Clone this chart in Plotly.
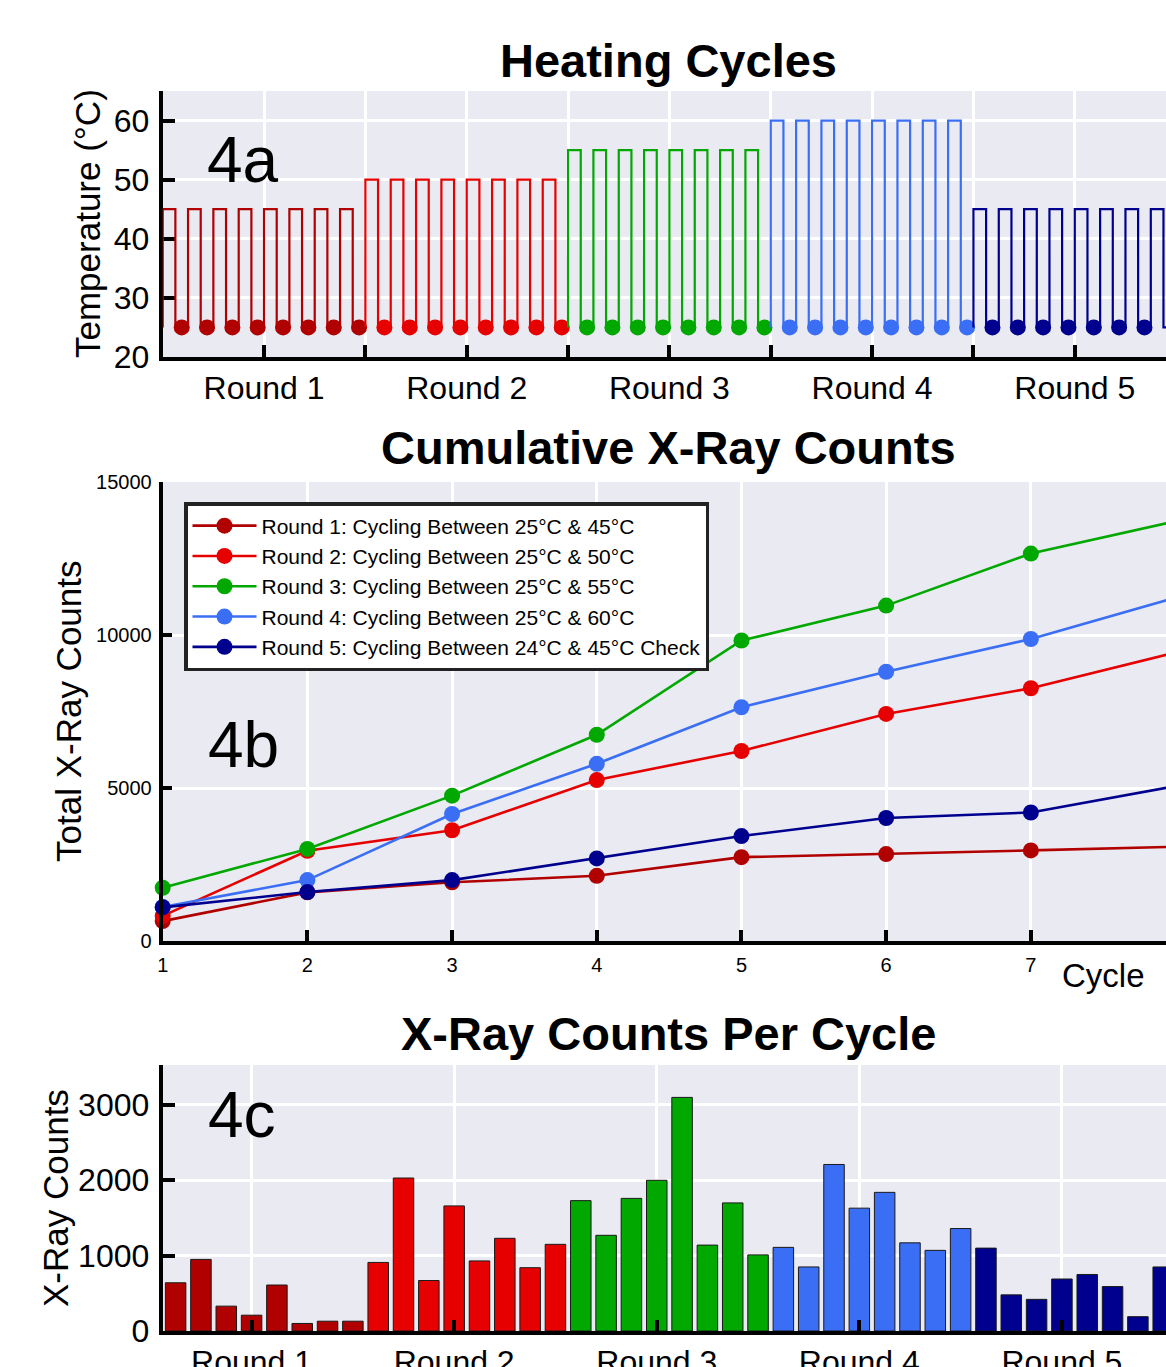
import plotly.graph_objects as go

W, H = 1166, 1367

# ---------------- data ----------------
rounds = ["Round 1", "Round 2", "Round 3", "Round 4", "Round 5"]
colors = ["#B00000", "#E60000", "#00A800", "#3A6EF5", "#00008F"]
legend_names = [
    "Round 1: Cycling Between 25°C & 45°C",
    "Round 2: Cycling Between 25°C & 50°C",
    "Round 3: Cycling Between 25°C & 55°C",
    "Round 4: Cycling Between 25°C & 60°C",
    "Round 5: Cycling Between 24°C & 45°C Check",
]
high_temps = [45, 50, 55, 60, 45]
low_temp = 25
cycles_per_round = 8
temp_ticks = [20, 30, 40, 50, 60]

cycles = [1, 2, 3, 4, 5, 6, 7, 8]
cum_r1 = [650, 1590, 1920, 2130, 2740, 2840, 2960, 3080]
cum_r2 = [820, 2950, 3620, 5260, 6210, 7420, 8260, 9430]
cum_r3 = [1740, 3010, 4750, 6740, 9820, 10960, 12660, 13720]
cum_r4 = [1110, 1990, 4150, 5790, 7640, 8800, 9870, 11220]
cum_r5 = [1100, 1600, 1990, 2700, 3430, 4020, 4200, 5060]
cumulative = [cum_r1, cum_r2, cum_r3, cum_r4, cum_r5]
cum_ticks = [0, 5000, 10000, 15000]
cum_tick_text = ["0", "5000", "10000", "15000"]

bars_r1 = [640, 950, 330, 210, 610, 100, 130, 130]
bars_r2 = [910, 2030, 670, 1660, 930, 1230, 840, 1150]
bars_r3 = [1730, 1270, 1760, 2000, 3100, 1140, 1700, 1010]
bars_r4 = [1110, 850, 2210, 1630, 1840, 1170, 1070, 1360]
bars_r5 = [1100, 480, 420, 690, 750, 590, 190, 850]
per_cycle = [bars_r1, bars_r2, bars_r3, bars_r4, bars_r5]
count_ticks = [0, 1000, 2000, 3000]

FONT = "Liberation Sans, Arial, sans-serif"


def px(x):
    return x / W


def py(y):
    return 1 - y / H


fig = go.Figure()

# ---------------- 4a: heating cycles ----------------
for r in range(5):
    xs, ys, dx = [], [], []
    for c in range(cycles_per_round):
        k = r * cycles_per_round + c
        xs += [k, k, k + 0.5, k + 0.5, k + 1]
        ys += [low_temp, high_temps[r], high_temps[r], low_temp, low_temp]
        dx.append(k + 0.75)
    fig.add_trace(go.Scatter(x=xs, y=ys, mode="lines",
                             line=dict(color=colors[r], width=2.2),
                             showlegend=False, cliponaxis=False,
                             xaxis="x", yaxis="y", hoverinfo="skip"))
    fig.add_trace(go.Scatter(x=dx, y=[low_temp] * len(dx), mode="markers",
                             marker=dict(color=colors[r], size=16),
                             showlegend=False, cliponaxis=False,
                             xaxis="x", yaxis="y", hoverinfo="skip"))

# ---------------- 4b: cumulative ----------------
for r in range(5):
    fig.add_trace(go.Scatter(x=cycles, y=cumulative[r], mode="lines+markers",
                             name=legend_names[r],
                             line=dict(color=colors[r], width=2.6),
                             marker=dict(color=colors[r], size=16),
                             cliponaxis=False,
                             xaxis="x2", yaxis="y2"))

# ---------------- 4c: per cycle ----------------
for r in range(5):
    xs = [r * cycles_per_round + c + 1 for c in range(cycles_per_round)]
    fig.add_trace(go.Bar(x=xs, y=per_cycle[r], width=0.81,
                         marker=dict(color=colors[r],
                                     line=dict(color="#1a1a1a", width=1)),
                         showlegend=False, xaxis="x3", yaxis="y3"))

axis_common = dict(showline=True, linecolor="black", linewidth=4,
                   ticks="inside", tickcolor="black", tickwidth=4,
                   showgrid=True, gridcolor="white", gridwidth=3,
                   zeroline=False, automargin=False,
                   tickfont=dict(family=FONT, color="black"))

xdom = [px(162.7), 1.0]

fig.update_layout(
    width=W, height=H,
    margin=dict(l=0, r=0, t=0, b=0),
    paper_bgcolor="white", plot_bgcolor="#EAEAF2",
    font=dict(family=FONT, color="black"),
    barmode="overlay",
    showlegend=True,
    legend=dict(x=px(184), y=py(502), xanchor="left", yanchor="top",
                bgcolor="white", bordercolor="#222222", borderwidth=3.5,
                font=dict(family=FONT, size=21, color="black"),
                itemwidth=64, tracegroupgap=0),
    xaxis=dict(axis_common, domain=xdom, anchor="y", range=[0, 39.6],
               tickmode="array", tickvals=[4, 8, 12, 16, 20, 24, 28, 32, 36],
               ticktext=["Round 1", "", "Round 2", "", "Round 3", "",
                         "Round 4", "", "Round 5"],
               ticklen=12, tickfont=dict(family=FONT, size=32, color="black"),
               ticklabelstandoff=0),
    yaxis=dict(axis_common, domain=[py(357), py(91)], anchor="x",
               range=[20, 65], tickvals=temp_ticks, ticklen=12,
               tickfont=dict(family=FONT, size=32, color="black"),
               ticklabelstandoff=3, layer="below traces"),
    xaxis2=dict(axis_common, domain=xdom, anchor="y2", range=[1, 7.934],
                tickvals=[1, 2, 3, 4, 5, 6, 7], ticklen=11,
                tickfont=dict(family=FONT, size=20, color="black"),
                ticklabelstandoff=3),
    yaxis2=dict(axis_common, domain=[py(941), py(482)], anchor="x2",
                range=[0, 15000], tickmode="array", tickvals=cum_ticks,
                ticktext=cum_tick_text, ticklen=9,
                tickfont=dict(family=FONT, size=20, color="black"),
                ticklabelstandoff=3),
    xaxis3=dict(axis_common, domain=xdom, anchor="y3", range=[0.49, 40.11],
                tickvals=[4, 12, 20, 28, 36], ticktext=rounds, ticklen=11,
                tickfont=dict(family=FONT, size=32, color="black"),
                ticklabelstandoff=0),
    yaxis3=dict(axis_common, domain=[py(1331), py(1065)], anchor="x3",
                range=[0, 3530], tickvals=count_ticks, ticklen=12,
                tickfont=dict(family=FONT, size=32, color="black"),
                ticklabelstandoff=3),
)

ann = []


def add_text(text, x, y, size, angle=0, bold=False):
    ann.append(dict(text=("<b>%s</b>" % text) if bold else text,
                    x=px(x), y=py(y), xref="paper", yref="paper",
                    xanchor="center", yanchor="middle", showarrow=False,
                    textangle=angle,
                    font=dict(family=FONT, size=size, color="black")))


add_text("Heating Cycles", 668, 60, 47, bold=True)
add_text("Cumulative X-Ray Counts", 668, 448, 47, bold=True)
add_text("X-Ray Counts Per Cycle", 668, 1033, 47, bold=True)
add_text("4a", 243, 160, 64)
add_text("4b", 243, 745, 64)
add_text("4c", 242, 1115, 64)
add_text("Temperature (°C)", 88, 224, 35, angle=-90)
add_text("Total X-Ray Counts", 68, 711, 35, angle=-90)
add_text("X-Ray Counts", 55, 1198, 35, angle=-90)
add_text("Cycle", 1103, 975, 33)

fig.update_layout(annotations=ann)

fig.write_html("out.html")
